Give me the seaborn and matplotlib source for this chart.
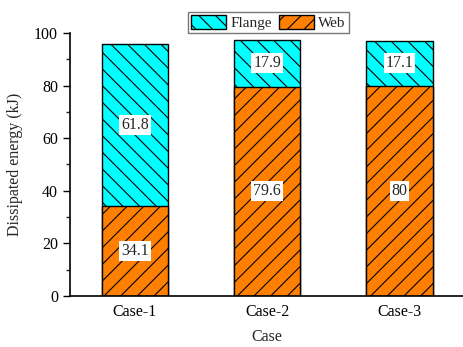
import matplotlib
matplotlib.use("Agg")
import matplotlib.pyplot as plt
import seaborn as sns
import pandas as pd
from matplotlib.patches import Patch
from matplotlib.ticker import MultipleLocator

cases = ["Case-1", "Case-2", "Case-3"]
web = [34.1, 79.6, 80.0]
flange = [61.8, 17.9, 17.1]
web_labels = ["34.1", "79.6", "80"]
flange_labels = ["61.8", "17.9", "17.1"]

sns.set_style("ticks")
plt.rcParams["font.family"] = ["Liberation Serif", "DejaVu Serif"]
plt.rcParams["hatch.linewidth"] = 0.8
plt.rcParams["hatch.color"] = "black"

df = pd.DataFrame({"Case": cases, "Web": web, "Flange": flange})
df["Total"] = df["Web"] + df["Flange"]

fig = plt.figure(figsize=(4.63, 3.47), dpi=100)
ax = fig.add_axes([0.151, 0.147, 0.849, 0.758])

cyan = "#00FFFF"
orange = "#FF8000"

# stacked bars: total (flange on top) drawn first, web drawn over it
sns.barplot(data=df, x="Case", y="Total", color=cyan, width=0.5,
            edgecolor="black", linewidth=1.0, hatch="\\\\", saturation=1, ax=ax)
sns.barplot(data=df, x="Case", y="Web", color=orange, width=0.5,
            edgecolor="black", linewidth=1.0, hatch="//", saturation=1, ax=ax)

box = dict(boxstyle="square,pad=0.12", facecolor="white", edgecolor="none")
for i in range(len(cases)):
    ax.text(i, web[i] / 2, web_labels[i], ha="center", va="center",
            fontsize=11.5, bbox=box, zorder=5)
    ax.text(i, web[i] + flange[i] / 2, flange_labels[i], ha="center",
            va="center", fontsize=11.5, bbox=box, zorder=5)

ax.set_xlim(-0.49, 2.48)
ax.set_ylim(0, 100)
ax.yaxis.set_major_locator(MultipleLocator(20))
ax.yaxis.set_minor_locator(MultipleLocator(10))
ax.set_xlabel("Case", fontsize=11.5, labelpad=6)
ax.set_ylabel("Dissipated energy (kJ)", fontsize=11.5, labelpad=8)
ax.tick_params(axis="both", labelsize=11.5, colors="black")
ax.tick_params(axis="x", length=0, pad=6)
ax.tick_params(axis="y", which="major", length=5, width=1.0, direction="out")
ax.tick_params(axis="y", which="minor", length=3, width=1.0, direction="out")
for s in ["top", "right"]:
    ax.spines[s].set_visible(False)
for s in ["left", "bottom"]:
    ax.spines[s].set_linewidth(1.2)
    ax.spines[s].set_color("black")

handles = [Patch(facecolor=cyan, edgecolor="black", hatch="\\\\", label="Flange"),
           Patch(facecolor=orange, edgecolor="black", hatch="//", label="Web")]
leg = fig.legend(handles=handles, loc="center", bbox_to_anchor=(0.58, 0.935),
                 ncol=2, fontsize=11, frameon=True, fancybox=False,
                 handlelength=2.3, handleheight=1.1, handletextpad=0.3,
                 columnspacing=0.4, borderpad=0.2, borderaxespad=0)
leg.get_frame().set_edgecolor("#555555")
leg.get_frame().set_linewidth(1.0)

fig.savefig("out.png", dpi=100)
